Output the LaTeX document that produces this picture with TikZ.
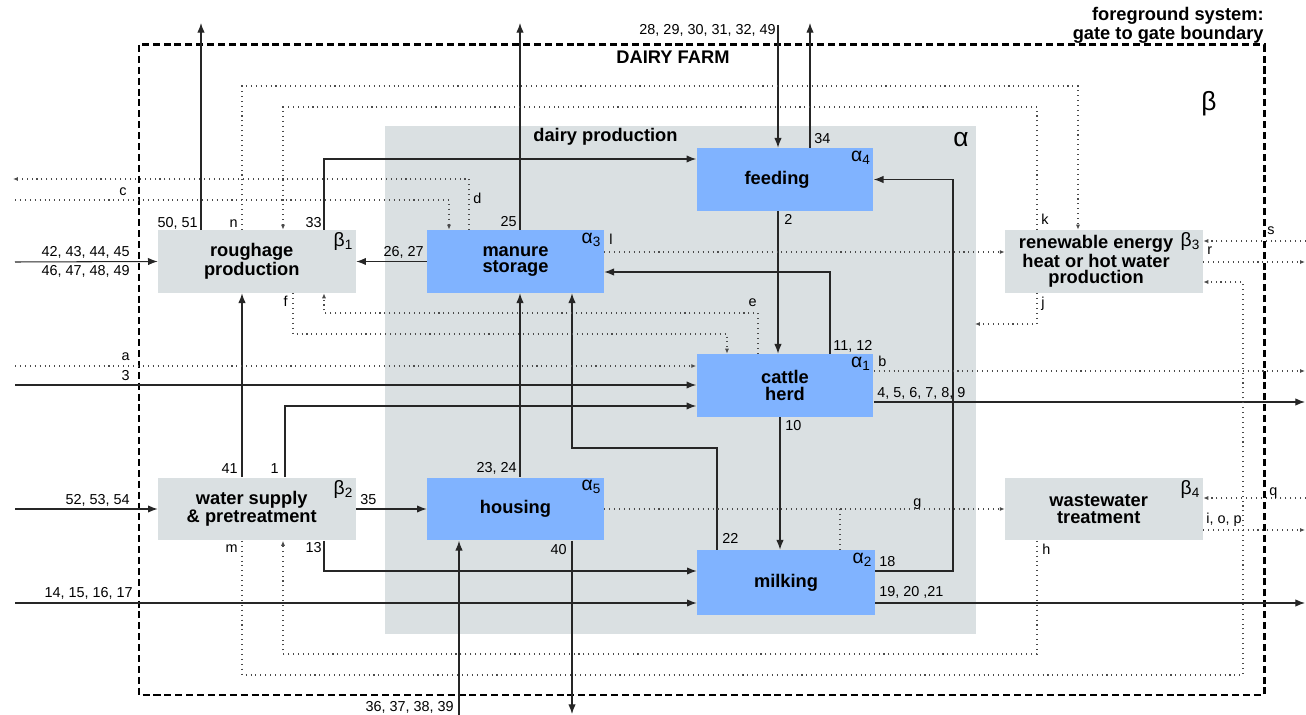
\documentclass[tikz,border=0pt]{standalone}
\usepackage{fontspec}
\setmainfont{Liberation Sans}
\usetikzlibrary{arrows.meta}

\definecolor{alphablue}{RGB}{128,179,255}
\definecolor{betagrey}{RGB}{218,224,226}
\definecolor{dotgrey}{RGB}{75,75,75}

\tikzset{
  flow/.style={draw=black!85, line width=0.6pt, -{Latex[length=5.5pt,width=4.2pt]}},
  aux/.style={draw=dotgrey, line width=0.6pt, dash pattern=on 0.6pt off 2.2pt},
  auxarrow/.style={aux, -{Latex[length=2.8pt,width=2.3pt]}},
  boundary/.style={draw=black, line width=1.7pt, dash pattern=on 4pt off 2.2pt},
  boxtext/.style={inner sep=0pt, align=center, font=\fontsize{10.4}{9.3}\selectfont\bfseries},
  unitbox/.style={boxtext, minimum height=1.26cm},
  alphabox/.style={unitbox, fill=alphablue, minimum width=3.54cm},
  betabox/.style={unitbox, fill=betagrey, minimum width=3.96cm},
  num/.style={font=\fontsize{8.2}{9}\selectfont, inner sep=0pt},
  idx/.style={font=\fontsize{11}{11}\selectfont, anchor=north east, inner sep=1.6pt},
  headline/.style={font=\fontsize{10.4}{9.2}\selectfont\bfseries, inner sep=0pt},
  greek/.style={font=\fontsize{15}{15}\selectfont, inner sep=0pt}
}

\begin{document}
\begin{tikzpicture}[x=0.02cm, y=-0.02cm]
  \useasboundingbox (0,0) rectangle (1306,715);

  % dairy production area and farm boundary
  \fill[betagrey] (385,126) rectangle (976,634);
  \draw[boundary] (139,45) rectangle (1264,695);
  \node[headline, anchor=north east, align=right] (fgsys) at (1264,7)
    {foreground system:\\gate to gate boundary};
  \node[headline, anchor=base] (farm) at (673,64) {DAIRY FARM};
  \node[headline, anchor=base west] (dairy) at (533,142) {dairy production};
  \node[greek] (alpha) at (961,140) {α};
  \node[greek] (beta) at (1209,104) {β};

  % process units (alpha)
  \node[alphabox, label={[boxtext, xshift=-4.5pt]center:feeding}] (feed) at (785,179.5) {};
  \node[alphabox] (manure)  at (515.5,261.5) {manure\\storage};
  \node[alphabox] (herd)    at (785,385.5)   {cattle\\herd};
  \node[alphabox] (housing) at (515.5,509)   {housing};
  \node[alphabox, minimum width=3.56cm, minimum height=1.3cm] (milking) at (786,582.5) {milking};
  \node[idx] (ifeed)    at (feed.north east)    {α\textsubscript{4}};
  \node[idx] (imanure)  at (manure.north east)  {α\textsubscript{3}};
  \node[idx] (iherd)    at (herd.north east)    {α\textsubscript{1}};
  \node[idx] (ihousing) at (housing.north east) {α\textsubscript{5}};
  \node[idx] (imilking) at (milking.north east) {α\textsubscript{2}};

  % supporting units (beta)
  \node[betabox, label={[boxtext, xshift=-3pt]center:roughage\\production}] (rough) at (257,261.5) {};
  \node[betabox, label={[boxtext, xshift=-3pt]center:water supply\\\& pretreatment}] (water) at (257,509) {};
  \node[betabox, label={[boxtext, xshift=-4.5pt]center:renewable energy\\heat or hot water\\production}] (energy) at (1104,261.5) {};
  \node[betabox, label={[boxtext, xshift=-3pt]center:wastewater\\treatment}] (waste) at (1104,509) {};
  \node[idx] (irough)  at (rough.north east)  {β\textsubscript{1}};
  \node[idx] (iwater)  at (water.north east)  {β\textsubscript{2}};
  \node[idx] (ienergy) at (energy.north east) {β\textsubscript{3}};
  \node[idx] (iwaste)  at (waste.north east)  {β\textsubscript{4}};

  % free ends outside the boundary
  \coordinate (o5051) at (201,23);
  \coordinate (o25)   at (520,23);
  \coordinate (i28)   at (778,25);
  \coordinate (o34)   at (810,23);
  \coordinate (i42)   at (15,262);
  \coordinate (i3)    at (15,385);
  \coordinate (o4)    at (1305,402);
  \coordinate (i52)   at (15,509);
  \coordinate (i14)   at (15,603);
  \coordinate (o19)   at (1305,603);
  \coordinate (i36)   at (459,715);
  \coordinate (o40)   at (572,714);
  \coordinate (ia)    at (15,366);
  \coordinate (ob)    at (1305,371);
  \coordinate (ic)    at (15,200);
  \coordinate (od)    at (13,179);
  \coordinate (oj)    at (975,324);
  \coordinate (is)    at (1306,241);
  \coordinate (or)    at (1305,262);
  \coordinate (iq)    at (1306,498);
  \coordinate (oiop)  at (1305,530);

  % material flows
  \draw[flow] (rough.north -| 201,0) -- (o5051);
  \draw[flow] (manure.north -| 520,0) -- (o25);
  \draw[flow] (i28) -- (feed.north -| 778,0);
  \draw[flow] (feed.north -| 810,0) -- (o34);
  \draw[flow] (rough.north -| 324,0) |- (feed.west |- 0,159);
  \draw[flow] (feed.south -| 778,0) -- (herd.north -| 778,0);
  \draw[flow] (herd.north -| 830,0) |- (manure.east |- 0,272);
  \draw[flow] (manure.west) -- (rough.east);
  \draw[flow] (milking.east |- 0,571) -| (953,0 |- feed.east) -- (feed.east);
  \draw[flow] (herd.south -| 780,0) -- (milking.north -| 780,0);
  \draw[flow] (milking.north -| 717,0) |- (572,448) -- (manure.south -| 572,0);
  \draw[flow] (housing.north -| 520,0) -- (manure.south -| 520,0);
  \draw[flow] (i42) -- (rough.west);
  \draw[flow] (i3) -- (herd.west |- 0,385);
  \draw[flow] (water.north -| 285,0) |- (herd.west |- 0,406);
  \draw[flow] (water.north -| 242,0) -- (rough.south -| 242,0);
  \draw[flow] (herd.east |- 0,402) -- (o4);
  \draw[flow] (i52) -- (water.west);
  \draw[flow] (water.east) -- (housing.west);
  \draw[flow] (water.south -| 324,0) |- (milking.west |- 0,571);
  \draw[flow] (i14) -- (milking.west |- 0,603);
  \draw[flow] (milking.east |- 0,603) -- (o19);
  \draw[flow] (i36) -- (housing.south -| 459,0);
  \draw[flow] (housing.south -| 572,0) -- (o40);

  % energy, water and waste flows
  \draw[auxarrow] (ia) -- (herd.west |- 0,366);
  \draw[auxarrow] (herd.east |- 0,371) -- (ob);
  \draw[auxarrow] (ic) -| (manure.north -| 449,0);
  \draw[auxarrow] (manure.north -| 469,0) |- (od);
  \draw[auxarrow] (rough.north -| 242,0) |- (1078,86) -- (energy.north -| 1078,0);
  \draw[auxarrow] (energy.north -| 1037,0) |- (283,107) -- (rough.north -| 283,0);
  \draw[auxarrow] (herd.north -| 758,0) |- (324,313) -- (rough.south -| 324,0);
  \draw[auxarrow] (rough.south -| 293,0) |- (727,334) -- (herd.north -| 727,0);
  \draw[auxarrow] (manure.east |- 0,252) -- (energy.west |- 0,252);
  \draw[auxarrow] (energy.south -| 1037,0) |- (oj);
  \draw[auxarrow] (is) -- (energy.east |- 0,241);
  \draw[auxarrow] (energy.east |- 0,262) -- (or);
  \draw[auxarrow] (water.south -| 242,0) |- (1243,675) |- (energy.east |- 0,282);
  \draw[auxarrow] (waste.south -| 1037,0) |- (283,654) -- (water.south -| 283,0);
  \draw[auxarrow] (housing.east) -- (waste.west);
  \draw[aux] (milking.north -| 840,0) -- (housing.east -| 840,0);
  \draw[auxarrow] (iq) -- (waste.east |- 0,498);
  \draw[auxarrow] (waste.east |- 0,530) -- (oiop);

  % flow numbers
  \node[num, anchor=base east] (t5051) at (198,228) {50, 51};
  \node[num, anchor=base east] (t33)   at (322,228) {33};
  \node[num, anchor=base east] (t25)   at (517,227) {25};
  \node[num, anchor=base east] (t28)   at (776,35)  {28, 29, 30, 31, 32, 49};
  \node[num, anchor=base west] (t34)   at (814,144) {34};
  \node[num, anchor=base west] (t2)    at (784,225) {2};
  \node[num, anchor=base east] (t42)   at (130,257) {42, 43, 44, 45};
  \node[num, anchor=base east] (t46)   at (130,276) {46, 47, 48, 49};
  \node[num, anchor=base east] (t26)   at (424,257) {26, 27};
  \node[num, anchor=base west] (t11)   at (833,351) {11, 12};
  \node[num, anchor=base east] (t3)    at (130,381) {3};
  \node[num, anchor=base west] (t4)    at (877,398) {4, 5, 6, 7, 8, 9};
  \node[num, anchor=base west] (t10)   at (785,431) {10};
  \node[num, anchor=base east] (t41)   at (238,474) {41};
  \node[num, anchor=base east] (t1)    at (279,474) {1};
  \node[num, anchor=base east] (t23)   at (517,473) {23, 24};
  \node[num, anchor=base east] (t52)   at (130,505) {52, 53, 54};
  \node[num, anchor=base west] (t35)   at (360,505) {35};
  \node[num, anchor=base east] (t13)   at (322,553) {13};
  \node[num, anchor=base east] (t40)   at (567,555) {40};
  \node[num, anchor=base west] (t22)   at (722,544) {22};
  \node[num, anchor=base west] (t18)   at (879,567) {18};
  \node[num, anchor=base west] (t19)   at (879,597) {19, 20 ,21};
  \node[num, anchor=base east] (t14)   at (133,598) {14, 15, 16, 17};
  \node[num, anchor=base east] (t36)   at (454,712) {36, 37, 38, 39};

  % flow letters
  \node[num, anchor=base east] (ta) at (130,361) {a};
  \node[num, anchor=base west] (tb) at (878,367) {b};
  \node[num, anchor=base east] (tc) at (127,196) {c};
  \node[num, anchor=base west] (td) at (473,204) {d};
  \node[num, anchor=base east] (te) at (757,307) {e};
  \node[num, anchor=base east] (tf) at (288,307) {f};
  \node[num, anchor=base west] (tg) at (913,507) {g};
  \node[num, anchor=base west] (th) at (1042,555) {h};
  \node[num, anchor=base west] (tiop) at (1206,524) {i, o, p};
  \node[num, anchor=base west] (tj) at (1041,308) {j};
  \node[num, anchor=base west] (tk) at (1041,225) {k};
  \node[num, anchor=base west] (tl) at (609,245) {l};
  \node[num, anchor=base east] (tm) at (238,553) {m};
  \node[num, anchor=base east] (tn) at (238,228) {n};
  \node[num, anchor=base west] (tq) at (1269,496) {q};
  \node[num, anchor=base west] (tr) at (1207,255) {r};
  \node[num, anchor=base west] (ts) at (1267,235) {s};
\end{tikzpicture}
\end{document}
